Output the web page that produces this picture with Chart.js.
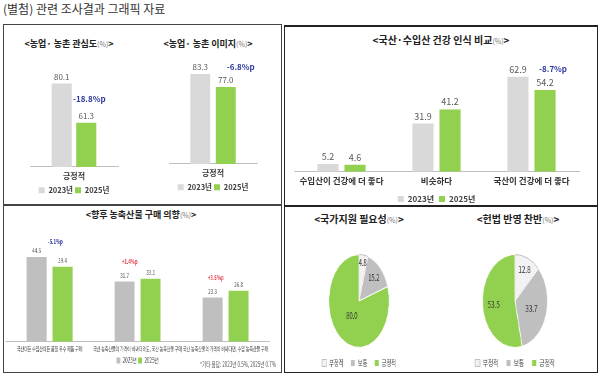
<!DOCTYPE html>
<html>
<head>
<meta charset="utf-8">
<script src="https://cdn.jsdelivr.net/npm/chart.js@4"></script>
<style>
body{margin:0;width:600px;height:375px;background:#fff;position:relative;overflow:hidden;font-family:"Noto Sans CJK KR","Noto Sans",sans-serif}
.box{position:absolute;box-sizing:border-box;border:1px solid #444}
.t{position:absolute;transform:translateX(-50%);white-space:nowrap;font-weight:bold;color:#222;line-height:1}
.t small{font-size:7px;font-weight:normal;color:#777}
.c{position:absolute}
.sq{transform-origin:0 0}
.pie{transform-origin:50% 50%}
</style>
</head>
<body>
<div style="position:absolute;left:3px;top:0px;font-size:12px;color:#333;white-space:nowrap">(별첨) 관련 조사결과 그래픽 자료</div>

<div class="box" style="left:3px;top:24px;width:279px;height:181px"></div>
<div class="box" style="left:284px;top:25px;width:314px;height:181px;border-width:2px 1px 1px 1px;border-color:#222"></div>
<div class="box" style="left:3px;top:205px;width:279px;height:168px"></div>
<div class="box" style="left:284px;top:205px;width:314px;height:168px;border-width:2px 1px 1px 1px;border-color:#222"></div>

<div class="t" style="left:69px;top:39px;font-size:9px">&lt;농업· 농촌 관심도<small>(%)</small>&gt;</div>
<div class="t" style="left:208px;top:39px;font-size:9px">&lt;농업· 농촌 이미지<small>(%)</small>&gt;</div>
<div class="t" style="left:441px;top:35px;font-size:10px">&lt;국산·수입산 건강 인식 비교<small>(%)</small>&gt;</div>
<div class="t" style="left:141px;top:210px;font-size:9px">&lt;향후 농축산물 구매 의향<small>(%)</small>&gt;</div>
<div class="t" style="left:359px;top:214px;font-size:10px">&lt;국가지원 필요성<small>(%)</small>&gt;</div>
<div class="t" style="left:518px;top:214px;font-size:10px">&lt;헌법 반영 찬반<small>(%)</small>&gt;</div>

<div class="c" style="left:12px;top:52px;width:125px;height:152px"><canvas id="c1"></canvas></div>
<div class="c" style="left:151px;top:49px;width:125px;height:152px"><canvas id="c2"></canvas></div>
<div class="c" style="left:287px;top:56px;width:305px;height:157px"><canvas id="c3"></canvas></div>
<div class="c sq" style="left:3px;top:228px;width:428px;height:146px;transform:scaleX(0.65)"><canvas id="c4"></canvas></div>
<div class="c pie" style="left:284px;top:253px;width:150px;height:124px;transform:scaleX(0.65)"><canvas id="c5"></canvas></div>
<div class="c pie" style="left:440px;top:253px;width:150px;height:124px;transform:scaleX(0.7)"><canvas id="c6"></canvas></div>

<div style="position:absolute;left:200px;top:359px;font-size:7px;color:#555;white-space:nowrap;transform:scaleX(0.65);transform-origin:0 0">*기타 응답: 2023년 0.5%, 2025년 0.7%</div>

<script>
// 데이터
const seriesNames = ['2023년', '2025년'];

const interestLabels = ['긍정적'];
const interest2023 = [80.1];
const interest2025 = [61.3];
const interestDiff = ['-18.8%p'];

const imageLabels = ['긍정적'];
const image2023 = [83.3];
const image2025 = [77.0];
const imageDiff = ['-6.8%p'];

const healthLabels = ['수입산이 건강에 더 좋다', '비슷하다', '국산이 건강에 더 좋다'];
const health2023 = [5.2, 31.9, 62.9];
const health2025 = [4.6, 41.2, 54.2];
const healthDiff = ['', '', '-8.7%p'];

const buyLabels = ['국산이든 수입산이든 품질 우수 제품 구매', '국산 농축산물의 가격이 비싸더라도, 국산 농축산물 구매', '국산 농축산물의 가격이 비싸다면, 수입 농축산물 구매'];
const buy2023 = [44.5, 31.7, 23.3];
const buy2025 = [39.4, 33.1, 26.8];
const buyDiff = ['-5.1%p', '+1.4%p', '+3.5%p'];

const pieLabels = ['부정적', '보통', '긍정적'];
const supportValues = [4.8, 15.2, 80.0];
const constitutionValues = [12.8, 33.7, 53.5];

const GREEN = '#92D050';
const LIGHT = '#D9D9D9';
const MID = '#BFBFBF';

Chart.defaults.font.family = '"Noto Sans CJK KR", "Noto Sans", sans-serif';
Chart.defaults.animation = false;

var valueLabelPlugin = {
	id: 'valueLabels',
	afterDatasetsDraw: function (chart, args, opts) {
		var ctx = chart.ctx;
		ctx.save();
		ctx.textAlign = 'center';
		ctx.textBaseline = 'bottom';
		ctx.font = opts.font;
		ctx.fillStyle = opts.color;
		chart.data.datasets.forEach(function (ds, di) {
			chart.getDatasetMeta(di).data.forEach(function (bar, i) {
				ctx.fillText(ds.data[i].toFixed(1), bar.x, bar.y - opts.gap);
			});
		});
		var green = chart.getDatasetMeta(1).data;
		ctx.font = opts.diffFont;
		opts.diffs.forEach(function (txt, i) {
			if (!txt) return;
			var off = opts.diffOffsets[i];
			ctx.fillStyle = txt[0] == '+' ? '#E0404A' : '#2F3A9E';
			ctx.fillText(txt, green[i].x + off[0], green[i].y + off[1]);
		});
		ctx.restore();
	}
};

var pieLabelPlugin = {
	id: 'pieLabels',
	afterDatasetsDraw: function (chart, args, opts) {
		var ctx = chart.ctx;
		var ds = chart.data.datasets[0];
		ctx.save();
		ctx.textAlign = 'center';
		ctx.textBaseline = 'middle';
		ctx.font = opts.font;
		ctx.fillStyle = '#333';
		chart.getDatasetMeta(0).data.forEach(function (arc, i) {
			var mid = (arc.startAngle + arc.endAngle) / 2;
			var r = arc.outerRadius * opts.radius[i];
			ctx.fillText(ds.data[i].toFixed(1), arc.x + Math.cos(mid) * r, arc.y + Math.sin(mid) * r);
		});
		ctx.restore();
	}
};

function makeBars(id, labels, d23, d25, cfg) {
	return new Chart(document.getElementById(id), {
		type: 'bar',
		data: {
			labels: labels,
			datasets: [
				{label: seriesNames[0], data: d23, backgroundColor: cfg.gray},
				{label: seriesNames[1], data: d25, backgroundColor: GREEN}
			]
		},
		options: {
			responsive: true,
			maintainAspectRatio: false,
			events: [],
			categoryPercentage: cfg.catPct,
			barPercentage: cfg.barPct,
			layout: {padding: cfg.pad},
			scales: {
				x: {
					grid: {display: false, drawTicks: false},
					border: {color: '#BFBFBF'},
					ticks: {font: cfg.tickFont, color: cfg.tickColor, padding: cfg.tickPad, maxRotation: 0, minRotation: 0, autoSkip: false}
				},
				y: {display: false, min: cfg.min, max: cfg.max}
			},
			plugins: {
				tooltip: {enabled: false},
				legend: {
					position: 'bottom',
					labels: {boxWidth: cfg.box, boxHeight: cfg.box, font: cfg.legendFont, color: '#404040', padding: cfg.legendPad}
				},
				valueLabels: {
					font: cfg.valueFont, color: '#595959', gap: cfg.gap,
					diffs: cfg.diffs, diffOffsets: cfg.diffOffsets, diffFont: cfg.diffFont
				}
			}
		},
		plugins: [valueLabelPlugin]
	});
}

function makePie(id, values, radius) {
	return new Chart(document.getElementById(id), {
		type: 'pie',
		data: {
			labels: pieLabels,
			datasets: [{
				data: values,
				backgroundColor: ['#F2F2F2', MID, GREEN],
				borderColor: ['#BFBFBF', '#fff', '#fff'],
				borderWidth: 1,
				hoverOffset: 0
			}]
		},
		options: {
			responsive: true,
			maintainAspectRatio: false,
			events: [],
			layout: {padding: {top: 1, bottom: 0}},
			plugins: {
				tooltip: {enabled: false},
				legend: {
					position: 'bottom',
					labels: {boxWidth: 7, boxHeight: 7, font: {size: 8}, color: '#404040', padding: 11}
				},
				pieLabels: {font: '9px "Noto Sans CJK KR"', radius: radius}
			}
		},
		plugins: [pieLabelPlugin]
	});
}

makeBars('c1', interestLabels, interest2023, interest2025, {
	gray: LIGHT, min: 40, max: 90, catPct: 0.557, barPct: 0.82,
	pad: {left: 18, right: 19, top: 11, bottom: 0},
	tickFont: {size: 8, weight: 'bold'}, tickColor: '#404040', tickPad: 4,
	box: 6, legendFont: {size: 7.5, weight: 'bold'}, legendPad: 2,
	valueFont: '8px "Noto Sans CJK KR"', gap: 3,
	diffs: interestDiff, diffOffsets: [[3, -20]], diffFont: 'bold 8px "Noto Sans CJK KR"'
});

makeBars('c2', imageLabels, image2023, image2025, {
	gray: LIGHT, min: 40, max: 90, catPct: 0.58, barPct: 0.78,
	pad: {left: 18, right: 19, top: 11, bottom: 0},
	tickFont: {size: 8, weight: 'bold'}, tickColor: '#404040', tickPad: 4,
	box: 6, legendFont: {size: 7.5, weight: 'bold'}, legendPad: 2,
	valueFont: '8px "Noto Sans CJK KR"', gap: 3,
	diffs: imageDiff, diffOffsets: [[15, -16]], diffFont: 'bold 8px "Noto Sans CJK KR"'
});

makeBars('c3', healthLabels, health2023, health2025, {
	gray: LIGHT, min: 0, max: 70, catPct: 0.57, barPct: 0.78,
	pad: {left: 7, right: 13, top: 10, bottom: 0},
	tickFont: {size: 8.5, weight: 'bold'}, tickColor: '#333', tickPad: 4,
	box: 6, legendFont: {size: 8, weight: 'bold'}, legendPad: 5,
	valueFont: '9px "Noto Sans CJK KR"', gap: 3,
	diffs: healthDiff, diffOffsets: [[0, 0], [0, 0], [8, -17]], diffFont: 'bold 8px "Noto Sans CJK KR"'
});

makeBars('c4', buyLabels, buy2023, buy2025, {
	gray: MID, min: 0, max: 55, catPct: 0.59, barPct: 0.77,
	pad: {left: 4, right: 18, top: 9, bottom: 0},
	tickFont: {size: 6}, tickColor: '#444', tickPad: 3,
	box: 6, legendFont: {size: 7}, legendPad: 2,
	valueFont: '7px "Noto Sans CJK KR"', gap: 3,
	diffs: buyDiff, diffOffsets: [[-11, -22], [-32, -14], [-35, -10]], diffFont: 'bold 6.5px "Noto Sans CJK KR"'
});

makePie('c5', supportValues, [0.84, 0.7, 0.4]);
makePie('c6', constitutionValues, [0.74, 0.53, 0.66]);
</script>
</body>
</html>
